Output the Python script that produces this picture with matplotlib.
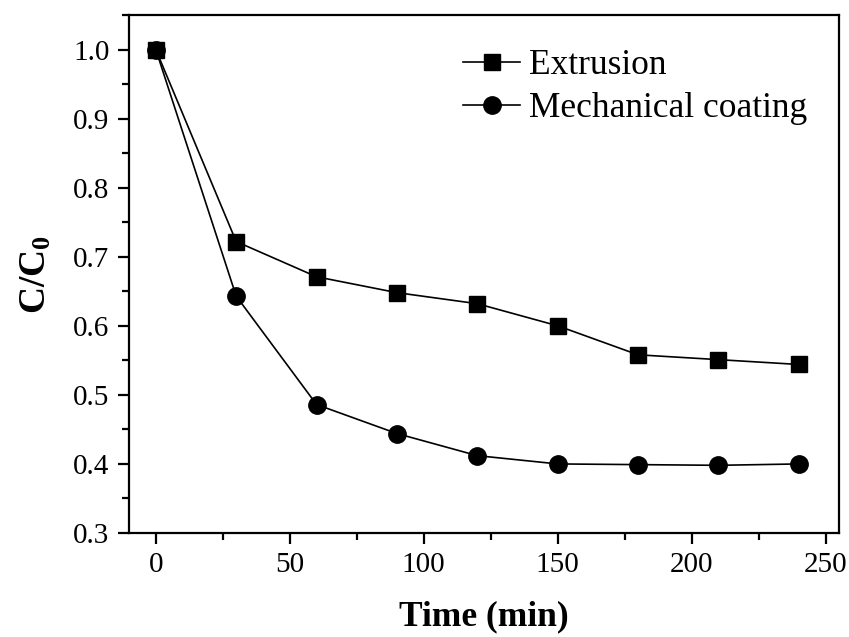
import matplotlib
matplotlib.use("Agg")
import matplotlib.pyplot as plt
from matplotlib.ticker import MultipleLocator

# data
time_min = [0, 30, 60, 90, 120, 150, 180, 210, 240]
extrusion = [1.000, 0.722, 0.671, 0.648, 0.632, 0.600, 0.558, 0.551, 0.544]
mech_coating = [1.000, 0.643, 0.486, 0.444, 0.412, 0.400, 0.399, 0.398, 0.400]

plt.rcParams['font.family'] = ['Liberation Serif', 'DejaVu Serif']
plt.rcParams['mathtext.fontset'] = 'custom'
plt.rcParams['mathtext.rm'] = 'Liberation Serif'
plt.rcParams['mathtext.bf'] = 'Liberation Serif:bold'

fig = plt.figure(figsize=(8.49, 6.37), dpi=100)
ax = fig.add_axes([129 / 849, 1 - 533 / 637, (839 - 129) / 849, (533 - 15) / 637])

ax.plot(time_min, extrusion, color='black', lw=1.2, marker='s', ms=11,
        label='Extrusion')
ax.plot(time_min, mech_coating, color='black', lw=1.2, marker='o', ms=12.5,
        label='Mechanical coating')

ax.set_xlim(-10, 255)
ax.set_ylim(0.3, 1.05)
ax.xaxis.set_major_locator(MultipleLocator(50))
ax.xaxis.set_minor_locator(MultipleLocator(25))
ax.yaxis.set_major_locator(MultipleLocator(0.1))
ax.yaxis.set_minor_locator(MultipleLocator(0.05))
ax.yaxis.set_major_formatter(plt.FormatStrFormatter('%.1f'))

for s in ax.spines.values():
    s.set_linewidth(1.6)
ax.tick_params(which='major', direction='out', length=8, width=1.6,
               labelsize=21, top=False, right=False, pad=6)
ax.tick_params(which='minor', direction='out', length=5, width=1.6,
               top=False, right=False)

ax.set_xlabel('Time (min)', fontsize=25.5, fontweight='bold', labelpad=16)
ax.set_ylabel(r'$\mathbf{C/C_0}$', fontsize=27, labelpad=14)

ax.legend(loc='upper right', bbox_to_anchor=(1.0, 0.995), frameon=False,
          fontsize=25.5, handlelength=1.6, handletextpad=0.25,
          labelspacing=0.28, numpoints=1, borderaxespad=0.5)

fig.savefig('out.png', dpi=100)
